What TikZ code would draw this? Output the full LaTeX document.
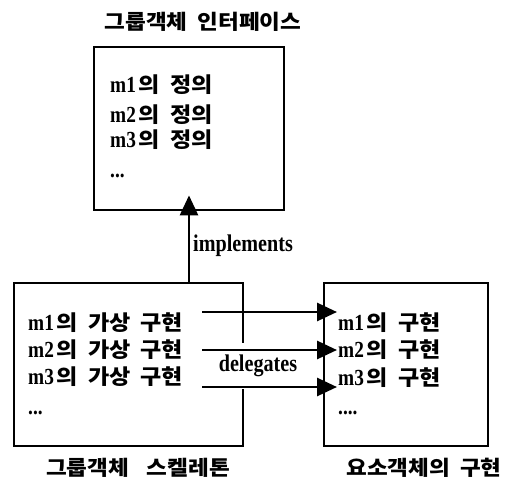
\documentclass[tikz,border=0pt]{standalone}
\usepackage{fontspec}
\usetikzlibrary{arrows.meta,calc}
\newfontfamily\kr{Noto Sans CJK KR}[FakeStretch=1.1]
\newfontfamily\lat{Liberation Serif}[FakeStretch=0.84]
\newcommand\lt[1]{{\lat\bfseries\fontsize{23}{25}\selectfont #1}\hspace{3pt}}
\newcommand\ks{\hspace{10pt}}
\begin{document}
\begin{tikzpicture}[x=1pt,y=-1pt,
  box/.style={draw,line width=2.4pt},
  ttl/.style={font=\kr\bfseries\fontsize{20.5}{22}\selectfont,inner sep=0pt},
  ln/.style={anchor=west,font=\kr\bfseries\fontsize{21}{23}\selectfont,inner sep=0pt},
  lbl/.style={font=\lat\bfseries\fontsize{24}{26}\selectfont,inner sep=0pt},
  arr/.style={line width=2.8pt,-{Triangle[length=20pt,width=18pt]}}]
\useasboundingbox (0,0) rectangle (508,481);
% boxes
\node[box,minimum width=190pt,minimum height=163pt,anchor=north west] (IF) at (93,46) {};
\node[box,minimum width=229pt,minimum height=163pt,anchor=north west] (SK) at (13,282) {};
\node[box,minimum width=164pt,minimum height=163pt,anchor=north west] (EL) at (323,282) {};
% titles
\node[ttl] (tIF) at (203,22) {그룹객체\ks 인터페이스};
\node[ttl] (tSK) at (138,468) {그룹객체\hspace{18pt}스켈레톤};
\node[ttl] (tEL) at (424,468) {요소객체의\ks 구현};
% interface lines
\node[ln] (i1) at (110,85) {\lt{m1}의\ks 정의};
\node[ln] (i2) at (110,115) {\lt{m2}의\ks 정의};
\node[ln] (i3) at (110,140) {\lt{m3}의\ks 정의};
\node[ln] (i4) at (110,176) {\lt{...}};
% skeleton lines
\node[ln] (s1) at (28,323) {\lt{m1}의\ks 가상\ks 구현};
\node[ln] (s2) at (28,350) {\lt{m2}의\ks 가상\ks 구현};
\node[ln] (s3) at (28,377) {\lt{m3}의\ks 가상\ks 구현};
\node[ln] (s4) at (28,413) {\lt{...}};
% element lines
\node[ln] (e1) at (338,323) {\lt{m1}의\ks 구현};
\node[ln] (e2) at (338,350) {\lt{m2}의\ks 구현};
\node[ln] (e3) at (338,378) {\lt{m3}의\ks 구현};
\node[ln] (e4) at (338,413) {\lt{....}};
% labels
\node[lbl,fill=white,minimum width=92pt,minimum height=46pt] (del) at (258,366) {delegates};
\node[lbl,anchor=west] (imp) at (193,246) {implements};
% connectors
\coordinate (a1) at (202,312);
\coordinate (a2) at (202,350);
\coordinate (a3) at (202,387);
\coordinate (up) at (189,282);
\draw[arr,shorten >=-16pt] (up) -- (up |- IF.south);
\draw[arr,shorten >=-14pt] (a1) -- (a1 -| EL.west);
\draw[arr,shorten >=-14pt] (a2) -- (a2 -| EL.west);
\draw[arr,shorten >=-14pt] (a3) -- (a3 -| EL.west);
\end{tikzpicture}
\end{document}
